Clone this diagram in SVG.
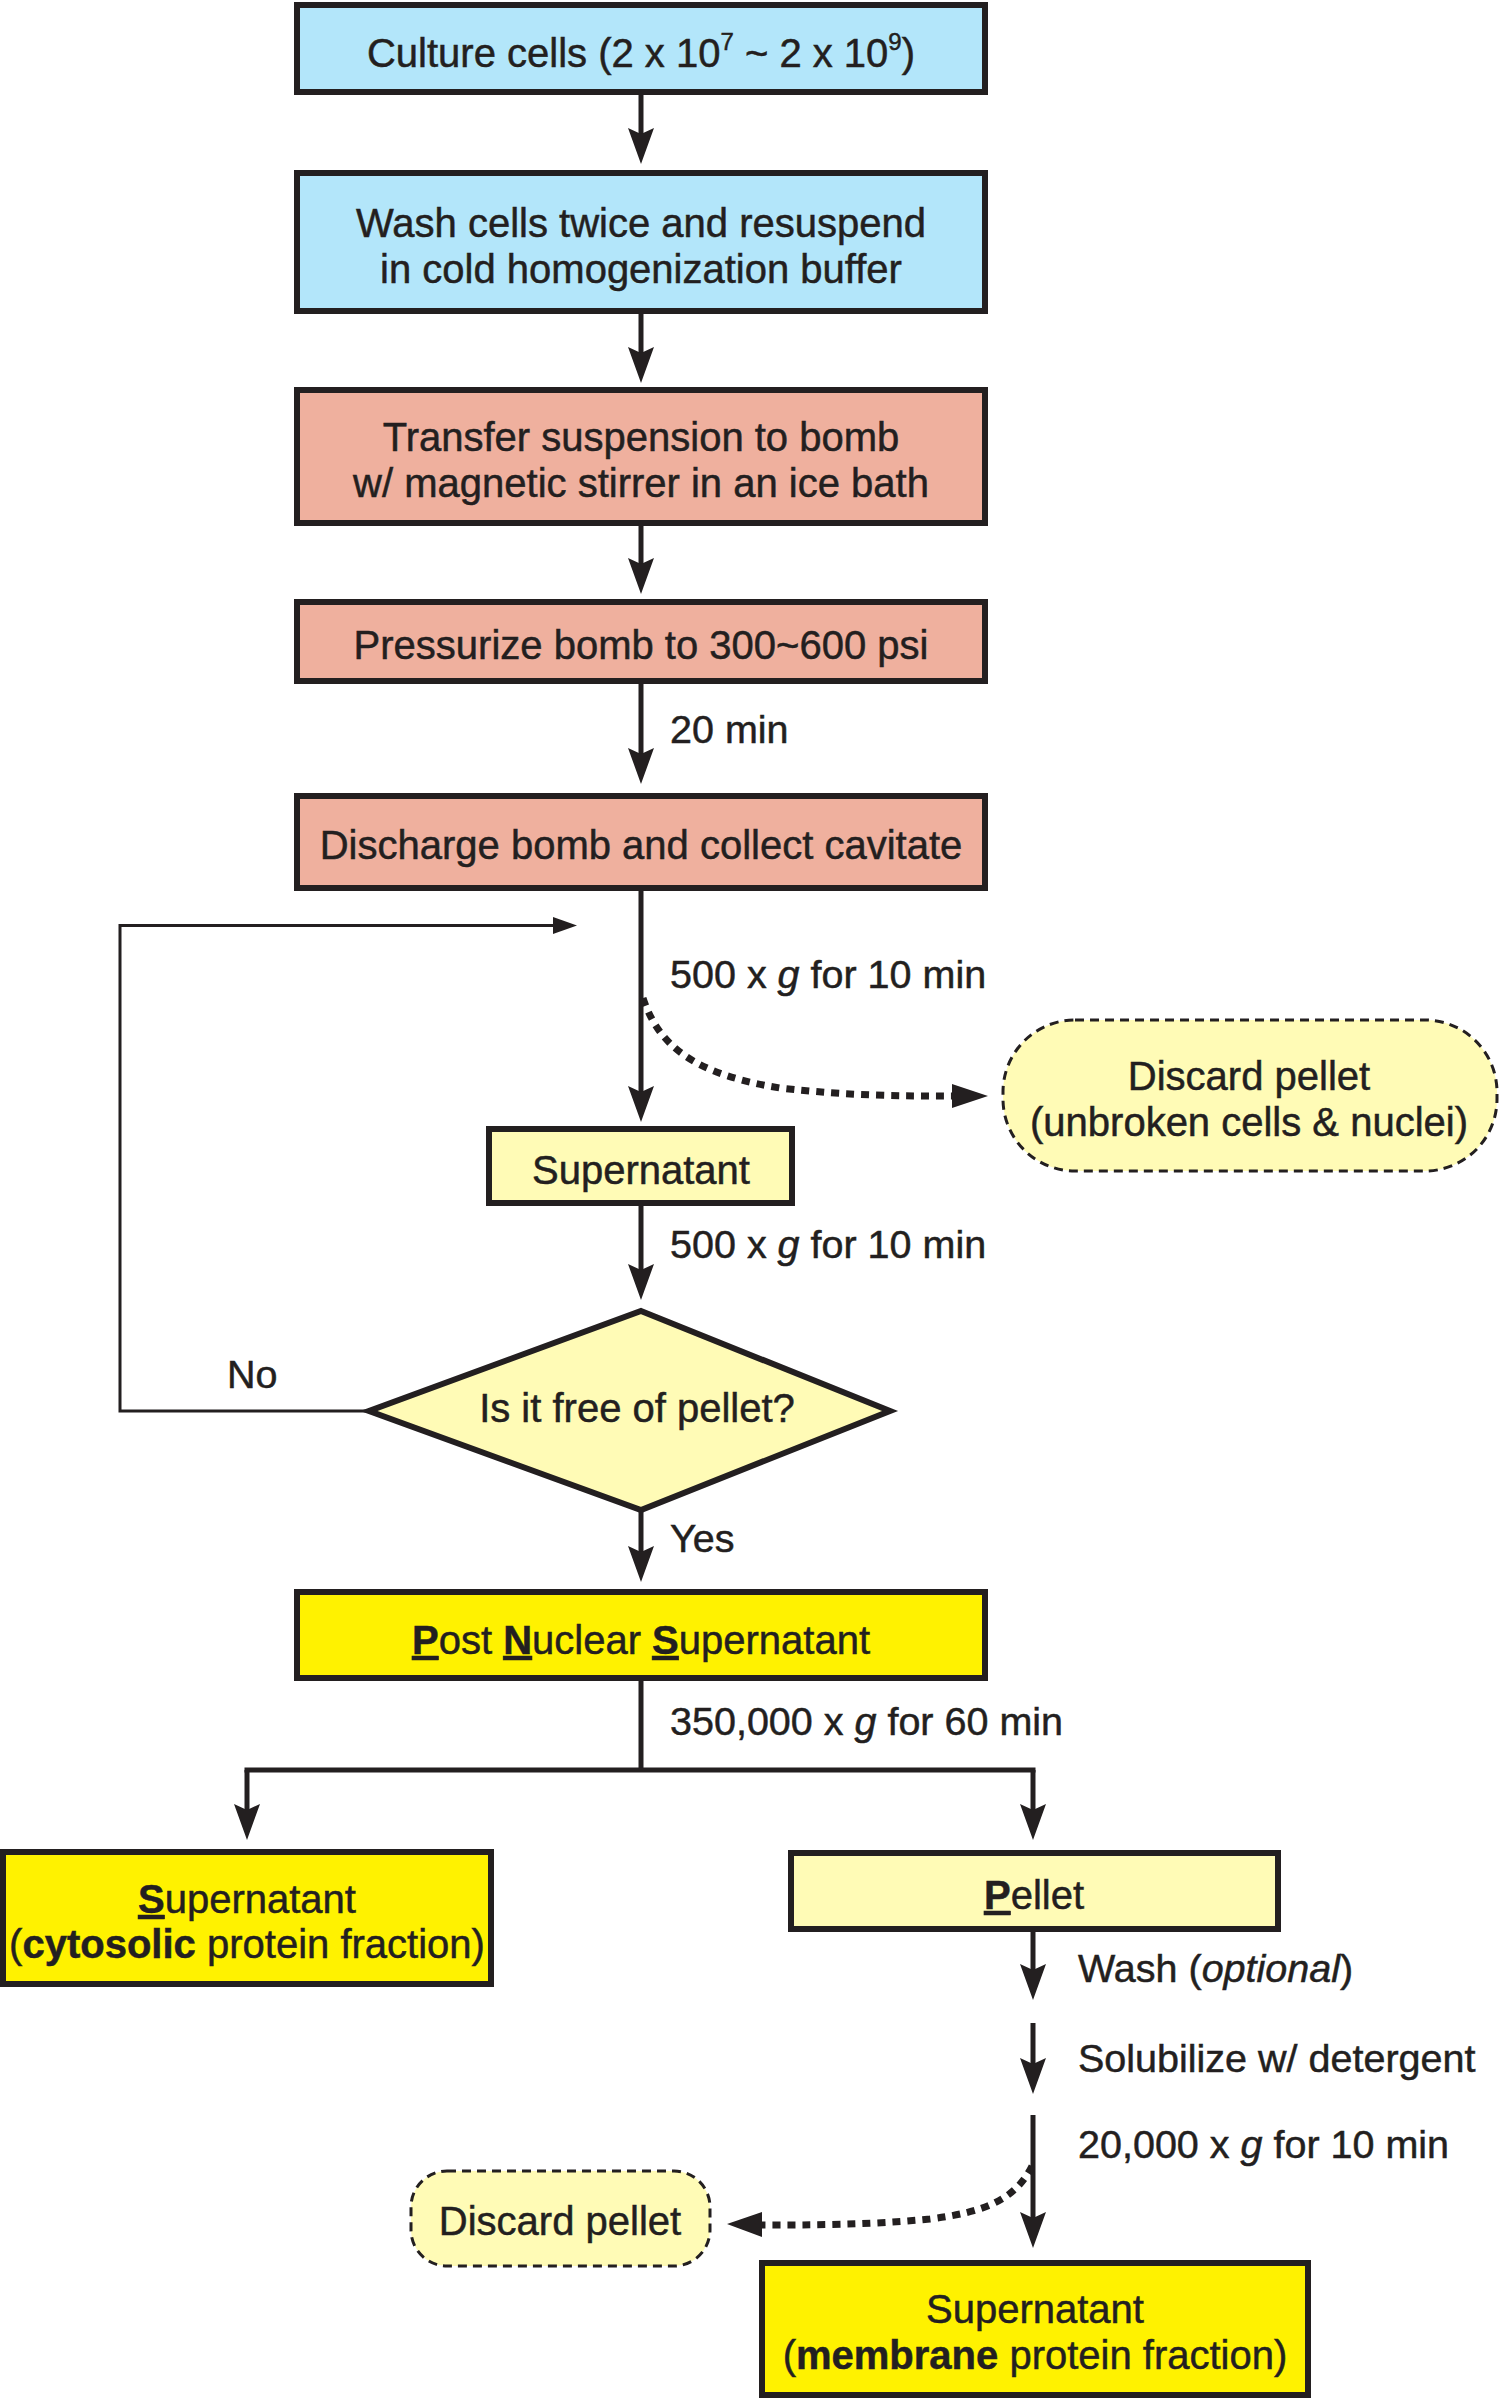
<svg xmlns="http://www.w3.org/2000/svg" width="1500" height="2398" viewBox="0 0 1500 2398">
<style>
text{font-family:"Liberation Sans",Arial,sans-serif;font-size:40px;fill:#231f20;stroke:#231f20;stroke-width:0.5}
.lbl{font-size:39.5px}
.c{text-anchor:middle}
.box{stroke:#231f20;stroke-width:6}
.blue{fill:#b3e6fa}
.salmon{fill:#efb09e}
.ly{fill:#fffbb6}
.y{fill:#fff200}
.dbox{fill:#fffbb6;stroke:#231f20;stroke-width:3;stroke-dasharray:9 6}
.ln{fill:none;stroke:#231f20;stroke-width:5}
.thin{fill:none;stroke:#231f20;stroke-width:3}
.dot{fill:none;stroke:#231f20;stroke-width:7;stroke-dasharray:8 7}
.b{font-weight:bold}
.u{font-weight:bold;text-decoration:underline}
.ah{fill:#231f20}
</style>

<g id="connectors">
<line class="ln" x1="641" y1="92" x2="641" y2="135"/>
<path class="ah" d="M628,128 L641,134 L654,128 L641,164 Z"/>
<line class="ln" x1="641" y1="311" x2="641" y2="355"/>
<path class="ah" d="M628,347 L641,353 L654,347 L641,383 Z"/>
<line class="ln" x1="641" y1="523" x2="641" y2="565"/>
<path class="ah" d="M628,558 L641,564 L654,558 L641,594 Z"/>
<line class="ln" x1="641" y1="682" x2="641" y2="756"/>
<path class="ah" d="M628,748 L641,754 L654,748 L641,784 Z"/>
<line class="ln" x1="641" y1="889" x2="641" y2="1094"/>
<path class="ah" d="M628,1086 L641,1092 L654,1086 L641,1122 Z"/>
<path class="dot" d="M643,998 C660,1050 700,1075 780,1088 C850,1096 900,1096 952,1096"/>
<path class="ah" d="M952,1084 L988,1096 L952,1108 Z"/>
<line class="ln" x1="641" y1="1204" x2="641" y2="1272"/>
<path class="ah" d="M628,1264 L641,1270 L654,1264 L641,1300 Z"/>
<line class="ln" x1="641" y1="1512" x2="641" y2="1554"/>
<path class="ah" d="M628,1546 L641,1552 L654,1546 L641,1582 Z"/>
<polyline class="thin" points="369,1411 120,1411 120,925.5 556,925.5"/>
<path class="ah" d="M553,917 L577,925.5 L553,934 Z"/>
<polyline class="ln" points="641,1680 641,1770"/>
<line class="ln" x1="244.5" y1="1770" x2="1035.5" y2="1770"/>
<line class="ln" x1="247" y1="1770" x2="247" y2="1812"/>
<path class="ah" d="M234,1804 L247,1810 L260,1804 L247,1840 Z"/>
<line class="ln" x1="1033" y1="1770" x2="1033" y2="1812"/>
<path class="ah" d="M1020,1804 L1033,1810 L1046,1804 L1033,1840 Z"/>
<line class="ln" x1="1033" y1="1930" x2="1033" y2="1972"/>
<path class="ah" d="M1020,1964 L1033,1970 L1046,1964 L1033,2000 Z"/>
<line class="ln" x1="1033" y1="2023" x2="1033" y2="2066"/>
<path class="ah" d="M1020,2058 L1033,2064 L1046,2058 L1033,2094 Z"/>
<line class="ln" x1="1033" y1="2115" x2="1033" y2="2220"/>
<path class="ah" d="M1020,2212 L1033,2218 L1046,2212 L1033,2248 Z"/>
<path class="dot" d="M1032,2166 C1015,2200 985,2212 930,2219 C870,2225 810,2225 761,2225"/>
<path class="ah" d="M762,2212 L727,2224 L762,2237 Z"/>
</g>

<g id="labels">
<text class="lbl" x="670" y="743">20 min</text>
<text class="lbl" x="670" y="988">500 x <tspan font-style="italic">g</tspan> for 10 min</text>
<text class="lbl" x="670" y="1258">500 x <tspan font-style="italic">g</tspan> for 10 min</text>
<text class="lbl" x="227" y="1388">No</text>
<text class="lbl" x="670" y="1552">Yes</text>
<text class="lbl" x="670" y="1735">350,000 x <tspan font-style="italic">g</tspan> for 60 min</text>
<text class="lbl" x="1078" y="1982">Wash (<tspan font-style="italic">optional</tspan>)</text>
<text class="lbl" x="1078" y="2072">Solubilize w/ detergent</text>
<text class="lbl" x="1078" y="2158">20,000 x <tspan font-style="italic">g</tspan> for 10 min</text>
</g>

<g id="n1">
<rect class="box blue" x="297" y="5" width="688" height="87"/>
<text class="c" x="641" y="67">Culture cells (2 x 10<tspan font-size="24" dy="-17">7</tspan><tspan dy="17"> ~ 2 x 10</tspan><tspan font-size="24" dy="-17">9</tspan><tspan dy="17">)</tspan></text>
</g>
<g id="n2">
<rect class="box blue" x="297" y="173" width="688" height="138"/>
<text class="c" x="641" y="237">Wash cells twice and resuspend</text>
<text class="c" x="641" y="283">in cold homogenization buffer</text>
</g>
<g id="n3">
<rect class="box salmon" x="297" y="390" width="688" height="133"/>
<text class="c" x="641" y="451">Transfer suspension to bomb</text>
<text class="c" x="641" y="497">w/ magnetic stirrer in an ice bath</text>
</g>
<g id="n4">
<rect class="box salmon" x="297" y="602" width="688" height="79"/>
<text class="c" x="641" y="659">Pressurize bomb to 300~600 psi</text>
</g>
<g id="n5">
<rect class="box salmon" x="297" y="796" width="688" height="92"/>
<text class="c" x="641" y="859">Discharge bomb and collect cavitate</text>
</g>
<g id="n6">
<rect class="dbox" x="1003" y="1020" width="494" height="151" rx="72" ry="72"/>
<text class="c" x="1249" y="1090">Discard pellet</text>
<text class="c" x="1249" y="1136">(unbroken cells &amp; nuclei)</text>
</g>
<g id="n7">
<rect class="box ly" x="489" y="1129" width="303" height="74"/>
<text class="c" x="641" y="1184">Supernatant</text>
</g>
<g id="n8">
<polygon class="box ly" points="641,1311 890,1411 641,1510 369,1411"/>
<text class="c" x="637" y="1422">Is it free of pellet?</text>
</g>
<g id="n9">
<rect class="box y" x="297" y="1592" width="688" height="86"/>
<text class="c" x="641" y="1654"><tspan class="u">P</tspan>ost <tspan class="u">N</tspan>uclear <tspan class="u">S</tspan>upernatant</text>
</g>
<g id="n10">
<rect class="box y" x="3" y="1852" width="488" height="132"/>
<text class="c" x="247" y="1913"><tspan class="u">S</tspan>upernatant</text>
<text class="c" x="247" y="1958" font-size="39.5">(<tspan class="b">cytosolic</tspan> protein fraction)</text>
</g>
<g id="n11">
<rect class="box ly" x="791" y="1853" width="487" height="76"/>
<text class="c" x="1034" y="1909"><tspan class="u">P</tspan>ellet</text>
</g>
<g id="n12">
<rect class="dbox" x="411" y="2171" width="299" height="95" rx="36" ry="36"/>
<text class="c" x="560" y="2235">Discard pellet</text>
</g>
<g id="n13">
<rect class="box y" x="762" y="2263" width="546" height="132"/>
<text class="c" x="1035" y="2323">Supernatant</text>
<text class="c" x="1035" y="2369">(<tspan class="b">membrane</tspan> protein fraction)</text>
</g>
</svg>
